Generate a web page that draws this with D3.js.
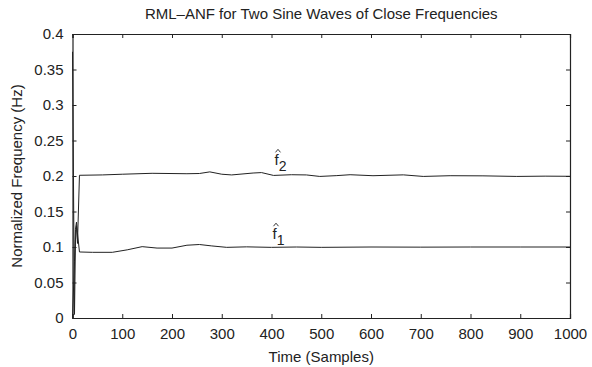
<!DOCTYPE html>
<html>
<head>
<meta charset="utf-8">
<script src="https://cdn.jsdelivr.net/npm/d3@7"></script>
<style>
  body { margin: 0; background: #fff; }
  svg { display: block; }
  text { font-family: "Liberation Sans", Arial, sans-serif; fill: #222; }
</style>
</head>
<body>
<div id="chart"></div>
<script>
// values
const f1Time = [0, 4, 6, 8, 10, 14, 40, 80, 110, 140, 170, 200, 230, 255, 280, 310, 350, 400, 450, 500, 600, 700, 800, 900, 1000];
const f1Freq = [0.0, 0.08, 0.125, 0.135, 0.12, 0.093, 0.0925, 0.0925, 0.096, 0.1005, 0.0985, 0.0985, 0.1025, 0.1035, 0.1015, 0.0995, 0.1002, 0.0995, 0.1, 0.0995, 0.1, 0.0998, 0.1, 0.1, 0.1];

const f2Time = [0, 4, 6, 8, 10, 14, 60, 100, 160, 230, 255, 276, 300, 320, 363, 380, 404, 440, 470, 497, 530, 558, 604, 665, 705, 759, 825, 893, 950, 1000];
const f2Freq = [0.375, 0.005, 0.11, 0.13, 0.105, 0.201, 0.2015, 0.2025, 0.2038, 0.2032, 0.2035, 0.2058, 0.2025, 0.2015, 0.2042, 0.2048, 0.2008, 0.2018, 0.2015, 0.1994, 0.2005, 0.2018, 0.2004, 0.2016, 0.1994, 0.2004, 0.2002, 0.1994, 0.1998, 0.1996];

const xTicks = [0, 100, 200, 300, 400, 500, 600, 700, 800, 900, 1000];
const yTicks = [0, 0.05, 0.1, 0.15, 0.2, 0.25, 0.3, 0.35, 0.4];

const title = "RML\u2013ANF for Two Sine Waves of Close Frequencies";
const xLabel = "Time (Samples)";
const yLabel = "Normalized Frequency (Hz)";

const width = 592, height = 367;
const margin = { top: 34, right: 22, bottom: 49, left: 72.5 };
const w = width - margin.left - margin.right;
const h = height - margin.top - margin.bottom;

const svg = d3.select("#chart").append("svg")
  .attr("width", width)
  .attr("height", height);

const g = svg.append("g")
  .attr("transform", `translate(${margin.left},${margin.top})`);

const x = d3.scaleLinear().domain([0, 1000]).range([0, w]);
const y = d3.scaleLinear().domain([0, 0.4]).range([h, 0]);

const fmtY = d => (d === 0 ? "0" : String(+d.toFixed(2)));

// ticks point inward, matlab style, on all four sides
const tickLen = 4;
const axes = [
  { ax: d3.axisBottom(x).tickValues(xTicks).tickSize(-tickLen).tickPadding(10).tickFormat(d3.format("d")), t: `translate(0,${h})` },
  { ax: d3.axisTop(x).tickValues(xTicks).tickSize(-tickLen).tickFormat(""), t: "translate(0,0)" },
  { ax: d3.axisLeft(y).tickValues(yTicks).tickSize(-tickLen).tickPadding(9).tickFormat(fmtY), t: "translate(0,0)" },
  { ax: d3.axisRight(y).tickValues(yTicks).tickSize(-tickLen).tickFormat(""), t: `translate(${w},0)` },
];
axes.forEach(a => {
  const ag = g.append("g").attr("transform", a.t).call(a.ax);
  ag.select(".domain").attr("stroke", "#222").attr("stroke-width", 1.2);
  ag.selectAll(".tick line").attr("stroke", "#222").attr("stroke-width", 1);
  ag.selectAll(".tick text")
    .attr("font-size", 15)
    .attr("font-family", "Liberation Sans, Arial, sans-serif")
    .attr("fill", "#222");
});

const line = d3.line()
  .x(d => x(d[0]))
  .y(d => y(d[1]));

const series = [
  d3.zip(f1Time, f1Freq),
  d3.zip(f2Time, f2Freq),
];

g.selectAll(".trace")
  .data(series)
  .enter()
  .append("path")
  .attr("class", "trace")
  .attr("fill", "none")
  .attr("stroke", "#222")
  .attr("stroke-width", 1)
  .attr("stroke-linejoin", "round")
  .attr("d", line);

// labels on the curves: f with a hat and a subscript
const curveLabels = [
  { t: 402, v: 0.111, sub: "1" },
  { t: 406, v: 0.215, sub: "2" },
];
curveLabels.forEach(c => {
  const lx = x(c.t), ly = y(c.v);
  // the hat is a little chevron, not a glyph
  g.append("path")
    .attr("d", `M${lx + 1},${ly - 13} L${lx + 3.5},${ly - 16} L${lx + 6},${ly - 13}`)
    .attr("fill", "none")
    .attr("stroke", "#222")
    .attr("stroke-width", 0.9);
  const tx = g.append("text")
    .attr("x", lx)
    .attr("y", ly)
    .attr("font-size", 15);
  tx.append("tspan").text("f");
  tx.append("tspan").attr("dy", 6).attr("font-size", 14).text(c.sub);
});

svg.append("text")
  .attr("x", margin.left + w / 2)
  .attr("y", 19)
  .attr("text-anchor", "middle")
  .attr("font-size", 15)
  .text(title);

svg.append("text")
  .attr("x", margin.left + w / 2)
  .attr("y", 362)
  .attr("text-anchor", "middle")
  .attr("font-size", 15)
  .text(xLabel);

svg.append("text")
  .attr("transform", `translate(22,${margin.top + h / 2}) rotate(-90)`)
  .attr("text-anchor", "middle")
  .attr("font-size", 15)
  .text(yLabel);
</script>
</body>
</html>
